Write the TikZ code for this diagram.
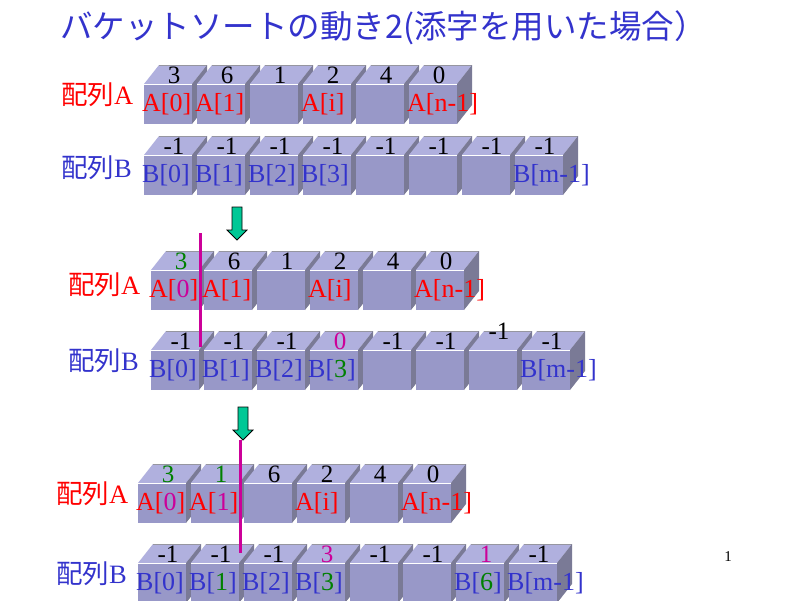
\documentclass[tikz,border=0pt]{standalone}
\usepackage{fontspec}
\setmainfont{Liberation Serif}
\newfontfamily\jpfont{Noto Sans CJK JP}
\usepackage{tikz}

\definecolor{titleblue}{RGB}{51,51,204}
\definecolor{idxred}{RGB}{255,0,0}
\definecolor{hilite}{RGB}{204,0,153}
\definecolor{mark}{RGB}{0,128,0}
\definecolor{arrowgreen}{RGB}{0,200,150}
\definecolor{cubefront}{RGB}{152,152,200}
\definecolor{cubetop}{RGB}{176,176,222}
\definecolor{cubeside}{RGB}{122,122,150}
\definecolor{cubeedge}{RGB}{150,150,160}

\begin{document}
\begin{tikzpicture}[x=1pt, y=-1pt,
      val/.style = {font=\fontsize{25}{25}\selectfont, inner sep=0pt},
      idx/.style = {font=\fontsize{26}{26}\selectfont, inner sep=0pt, anchor=west},
      rowname/.style = {font=\fontsize{26.5}{26.5}\selectfont, inner sep=0pt, anchor=west},
      title/.style = {font=\jpfont\fontsize{32.5}{32.5}\selectfont, text=titleblue, inner sep=0pt, anchor=west},
      cursor/.style = {draw=hilite, line width=3pt},
      downarrow/.style = {draw=black, fill=arrowgreen, line width=0.8pt, line join=miter},
      cube/.pic = {
        \fill[cubetop] (0,0) -- (15,-19) -- (63,-19) -- (48,0) -- cycle;
        \draw[cubeedge] (15,-19) -- (63,-19);
        \fill[cubeside] (48,0) -- (63,-19) -- (63,21) -- (48,40) -- cycle;
        \fill[cubefront] (0,0) rectangle (48,40);
        \draw[white, line width=1pt] (0,0) -- (48,0);
      }]
    \useasboundingbox (0,0) rectangle (800,600);

    \node[title] (title) at (60,28) {バケットソートの動き2(添字を用いた場合）};

    % before
    \node[rowname, text=idxred] (rowA1) at (61,95) {{\jpfont 配列}A};
    \node[rowname, text=titleblue] (rowB1) at (61,168) {{\jpfont 配列}B};
    \foreach \i in {0,...,5} \pic at (144+\i*53,84) {cube};
    \foreach \i in {0,...,7} \pic at (144+\i*53,155) {cube};
    \foreach \v/\l [count=\i from 0] in {3/A[0], 6/A[1], 1/{}, 2/A[i], 4/{}, 0/A[n-1]} {
      \node[val] (a1v\i) at (174+\i*53,75) {\v};
      \node[idx, text=idxred] (a1i\i) at (142+\i*53,104) {\l};
    }
    \foreach \v/\l [count=\i from 0] in {-1/B[0], -1/B[1], -1/B[2], -1/B[3], -1/{}, -1/{}, -1/{}, -1/B[m-1]} {
      \node[val] (b1v\i) at (174+\i*53,146) {\v};
      \node[idx, text=titleblue] (b1i\i) at (142+\i*53,175) {\l};
    }

    \coordinate (step1) at (237,207);
    \filldraw[downarrow] (step1) ++(-5,0) -- ++(10,0) -- ++(0,23) -- ++(5,0)
      -- ++(-10,10) -- ++(-10,-10) -- ++(5,0) -- cycle;

    % first element moved
    \node[rowname, text=idxred] (rowA2) at (68,285) {{\jpfont 配列}A};
    \node[rowname, text=titleblue] (rowB2) at (68,361) {{\jpfont 配列}B};
    \foreach \i in {0,...,5} \pic at (151+\i*53,270) {cube};
    \foreach \i in {0,...,7} \pic at (151+\i*53,350) {cube};
    \foreach \v/\l [count=\i from 0] in {\textcolor{mark}{3}/A[\textcolor{hilite}{0}], 6/A[1], 1/{}, 2/A[i], 4/{}, 0/A[n-1]} {
      \node[val] (a2v\i) at (181+\i*53,261) {\v};
      \node[idx, text=idxred] (a2i\i) at (149+\i*53,290) {\l};
    }
    \foreach \v/\l/\up [count=\i from 0] in {-1/B[0]/0, -1/B[1]/0, -1/B[2]/0, \textcolor{hilite}{0}/B[\textcolor{mark}{3}]/0, -1/{}/0, -1/{}/0, -1/{}/10, -1/B[m-1]/0} {
      \node[val] (b2v\i) at (181+\i*53,341-\up) {\v};
      \node[idx, text=titleblue] (b2i\i) at (149+\i*53,370) {\l};
    }
    \coordinate (cut1top) at (200,233);
    \coordinate (cut1end) at (200,347);
    \draw[cursor] (cut1top) -- (cut1end);

    \coordinate (step2) at (243,407);
    \filldraw[downarrow] (step2) ++(-5,0) -- ++(10,0) -- ++(0,23) -- ++(5,0)
      -- ++(-10,10) -- ++(-10,-10) -- ++(5,0) -- cycle;

    % second element moved
    \node[rowname, text=idxred] (rowA3) at (56,494) {{\jpfont 配列}A};
    \node[rowname, text=titleblue] (rowB3) at (56,574) {{\jpfont 配列}B};
    \foreach \i in {0,...,5} \pic at (138+\i*53,483) {cube};
    \foreach \i in {0,...,7} \pic at (138+\i*53,563) {cube};
    \foreach \v/\l [count=\i from 0] in {\textcolor{mark}{3}/A[\textcolor{hilite}{0}], \textcolor{mark}{1}/A[\textcolor{hilite}{1}], 6/{}, 2/A[i], 4/{}, 0/A[n-1]} {
      \node[val] (a3v\i) at (168+\i*53,474) {\v};
      \node[idx, text=idxred] (a3i\i) at (136+\i*53,503) {\l};
    }
    \foreach \v/\l [count=\i from 0] in {-1/B[0], -1/B[\textcolor{mark}{1}], -1/B[2], \textcolor{hilite}{3}/B[\textcolor{mark}{3}], -1/{}, -1/{}, \textcolor{hilite}{1}/B[\textcolor{mark}{6}], -1/B[m-1]} {
      \node[val] (b3v\i) at (168+\i*53,554) {\v};
      \node[idx, text=titleblue] (b3i\i) at (136+\i*53,583) {\l};
    }
    \coordinate (cut2top) at (240,440);
    \coordinate (cut2end) at (240,553);
    \draw[cursor] (cut2top) -- (cut2end);

    \node[font=\fontsize{15}{15}\selectfont, inner sep=0pt] (pageno) at (728,557) {1};
\end{tikzpicture}
\end{document}
